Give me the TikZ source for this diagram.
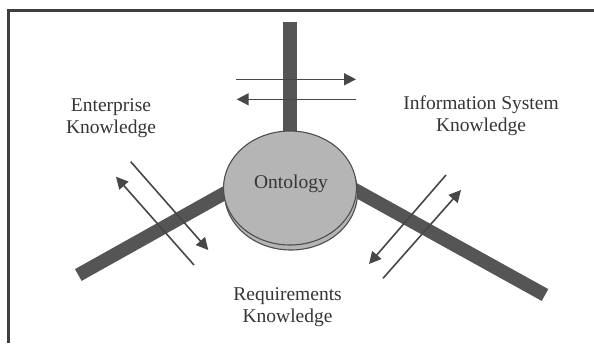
\documentclass[tikz,border=0pt]{standalone}
\usepackage{fontspec}
\setmainfont{Liberation Serif}
\usetikzlibrary{arrows.meta,shapes.geometric}
\definecolor{barcol}{HTML}{555555}
\definecolor{arrowcol}{HTML}{474747}
\definecolor{framecol}{HTML}{3E3E3E}
\definecolor{diskfill}{HTML}{B5B5B5}
\definecolor{diskedge}{HTML}{4E4E4E}
\definecolor{txtcol}{HTML}{363636}
\begin{document}
\begin{tikzpicture}[x=1pt,y=-1pt,
  bar/.style={line width=13.5pt, draw=barcol, line cap=butt},
  flow/.style={draw=arrowcol, line width=1.6pt, -{Triangle[length=12pt,width=12pt]}},
  lbl/.style={font=\fontsize{19.5}{22}\selectfont, text=txtcol, align=center, inner sep=0pt},
  disk/.style={ellipse, fill=diskfill, draw=diskedge, line width=1.1pt, minimum width=133pt, minimum height=114pt, inner sep=0pt}]
\useasboundingbox (0,0) rectangle (594,343);
\fill[white] (0,0) rectangle (594,343);
% frame
\coordinate (frTR) at (594,10);
\coordinate (frTL) at (8.5,10);
\coordinate (frBL) at (8.5,343);
\draw[line width=3pt, draw=framecol] (frTR) -- (frTL) -- (frBL);
% bars
\coordinate (topEnd) at (290,21.7);
\coordinate (topIn) at (290,150);
\coordinate (leftEnd) at (78.3,275);
\coordinate (leftIn) at (250,179);
\coordinate (rightEnd) at (545,295);
\coordinate (rightIn) at (330,176);
\draw[bar] (topEnd) -- (topIn);
\draw[bar] (leftEnd) -- (leftIn);
\draw[bar] (rightEnd) -- (rightIn);
% disk
\node[disk] (base) at (291,193) {};
\node[disk] (onto) at (290,188) {};
\node[lbl, anchor=base] (ontotext) at (291,188) {Ontology};
% arrows top
\coordinate (t1a) at (236,79.3);   \coordinate (t1b) at (356,79.3);
\coordinate (t2a) at (356,99.3);   \coordinate (t2b) at (236.7,99.3);
\draw[flow] (t1a) -- (t1b);
\draw[flow] (t2a) -- (t2b);
% arrows left
\coordinate (l1a) at (130.7,161.7); \coordinate (l1b) at (208.3,250);
\coordinate (l2a) at (194,265);     \coordinate (l2b) at (116,176.7);
\draw[flow] (l1a) -- (l1b);
\draw[flow] (l2a) -- (l2b);
% arrows right
\coordinate (r1a) at (446,175);   \coordinate (r1b) at (369,264);
\coordinate (r2a) at (383,278.3); \coordinate (r2b) at (461,190);
\draw[flow] (r1a) -- (r1b);
\draw[flow] (r2a) -- (r2b);
% labels
\node[lbl] (ent) at (111,118) {Enterprise\\Knowledge};
\node[lbl] (info) at (481,116) {Information System\\Knowledge};
\node[lbl] (req) at (287.6,307) {Requirements\\Knowledge};
\end{tikzpicture}
\end{document}
